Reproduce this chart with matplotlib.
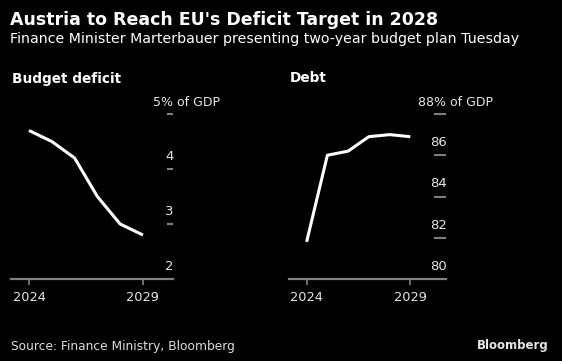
import matplotlib.pyplot as plt

# data
years = [2024, 2025, 2026, 2027, 2028, 2029]
deficit = [4.7, 4.5, 4.2, 3.5, 3.0, 2.8]
debt = [81.8, 86.0, 86.2, 86.9, 87.0, 86.9]

deficit_ticks = [2, 3, 4, 5]
debt_ticks = [80, 82, 84, 86, 88]
year_ticks = [2024, 2029]

W, H = 562, 361
GRAY = '#808080'
LABEL = '#e6e6e6'

plt.rcParams['font.family'] = ['DejaVu Sans']

fig = plt.figure(figsize=(W / 100, H / 100), dpi=100, facecolor='black')


def fy(y):
    # pixel row -> figure fraction
    return 1 - y / H


def panel(left, width, values, yticks, xlim, tick_len, unit, unit_x, title):
    ax = fig.add_axes([left / W, 82 / H, width / W, 165 / H])
    ax.set_facecolor('black')
    ax.plot(years, values, color='white', lw=2.2, solid_capstyle='butt')
    ax.set_xlim(xlim)
    ax.set_ylim(yticks[0], yticks[-1])

    for s in ['top', 'left', 'right']:
        ax.spines[s].set_visible(False)
    ax.spines['bottom'].set_color(GRAY)
    ax.spines['bottom'].set_linewidth(1.6)

    ax.set_xticks(year_ticks)
    ax.set_xticklabels([str(y) for y in year_ticks])
    ax.tick_params(axis='x', direction='out', length=4, width=1.2, color=GRAY,
                   labelcolor=LABEL, labelsize=9.3, pad=4.5)

    ax.yaxis.tick_right()
    ax.set_yticks(yticks[1:])
    ax.set_yticklabels([])
    ax.tick_params(axis='y', direction='in', length=tick_len, width=1.5, color=GRAY)

    # value labels sit above their tick marks
    for v in yticks[:-1]:
        ax.annotate(str(v), xy=(1, v), xycoords=('axes fraction', 'data'),
                    xytext=(0.5, 6.5), textcoords='offset points',
                    ha='right', va='baseline', color=LABEL, fontsize=9.5)
    fig.text(unit_x / W, fy(105.5), f'{yticks[-1]}{unit}', color=LABEL,
             fontsize=9, ha='left', va='baseline')
    fig.text(left / W + 1 / W, fy(82.5), title, color='white', fontsize=9.8,
             fontweight='bold', ha='left', va='baseline')
    return ax


panel(11, 162, deficit, deficit_ticks, (2023.21, 2030.32), 4.3, '% of GDP', 153,
      'Budget deficit')
panel(289, 157, debt, debt_ticks, (2023.15, 2030.72), 8.6, '% of GDP', 418, 'Debt')

fig.text(10.5 / W, fy(25), "Austria to Reach EU's Deficit Target in 2028",
         color='white', fontsize=12.5, fontweight='bold', ha='left', va='baseline')
fig.text(10.5 / W, fy(43.3),
         'Finance Minister Marterbauer presenting two-year budget plan Tuesday',
         color='white', fontsize=10.2, ha='left', va='baseline')
fig.text(11 / W, fy(350), 'Source: Finance Ministry, Bloomberg',
         color='#d8dde3', fontsize=8.8, ha='left', va='baseline')
fig.text(549 / W, fy(348.5), 'Bloomberg', color='#e6e6e6', fontsize=8.5,
         fontweight='bold', ha='right', va='baseline')

fig.savefig('out.png', dpi=100, facecolor='black')
